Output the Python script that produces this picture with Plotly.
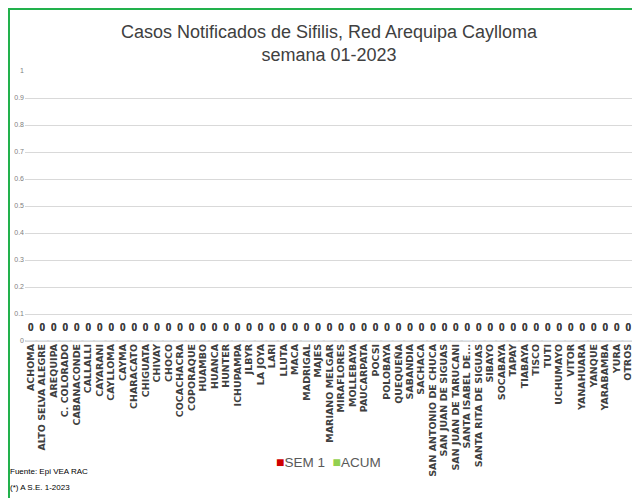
import plotly.graph_objects as go

# distritos (eje x)
distritos = [
    "ACHOMA", "ALTO SELVA ALEGRE", "AREQUIPA", "C. COLORADO", "CABANACONDE",
    "CALLALLI", "CAYARANI", "CAYLLOMA", "CAYMA", "CHARACATO", "CHIGUATA",
    "CHIVAY", "CHOCO", "COCACHACRA", "COPORAQUE", "HUAMBO", "HUANCA",
    "HUNTER", "ICHUPAMPA", "JLBYR", "LA JOYA", "LARI", "LLUTA", "MACA",
    "MADRIGAL", "MAJES", "MARIANO MELGAR", "MIRAFLORES", "MOLLEBAYA",
    "PAUCARPATA", "POCSI", "POLOBAYA", "QUEQUEÑA", "SABANDIA", "SACHACA",
    "SAN ANTONIO DE CHUCA", "SAN JUAN DE SIGUAS", "SAN JUAN DE TARUCANI",
    "SANTA ISABEL DE...", "SANTA RITA DE SIGUAS", "SIBAYO", "SOCABAYA",
    "TAPAY", "TIABAYA", "TISCO", "TUTI", "UCHUMAYO", "VITOR", "YANAHUARA",
    "YANQUE", "YARABAMBA", "YURA", "OTROS",
]
# casos semana 1
sem1 = [0, 0, 0, 0, 0, 0, 0, 0, 0, 0, 0, 0, 0, 0, 0, 0, 0, 0, 0, 0,
        0, 0, 0, 0, 0, 0, 0, 0, 0, 0, 0, 0, 0, 0, 0, 0, 0, 0, 0, 0,
        0, 0, 0, 0, 0, 0, 0, 0, 0, 0, 0, 0, 0]
# casos acumulados
acum = [0, 0, 0, 0, 0, 0, 0, 0, 0, 0, 0, 0, 0, 0, 0, 0, 0, 0, 0, 0,
        0, 0, 0, 0, 0, 0, 0, 0, 0, 0, 0, 0, 0, 0, 0, 0, 0, 0, 0, 0,
        0, 0, 0, 0, 0, 0, 0, 0, 0, 0, 0, 0, 0]
y_ticks = [0, 0.1, 0.2, 0.3, 0.4, 0.5, 0.6, 0.7, 0.8, 0.9, 1]

SANS = "Liberation Sans, Arial"
ROJO, VERDE = "#D00000", "#92D050"

# la pagina tiene 8px de margen en body -> coordenadas de pantalla - 8
OFF = 8
W, H = 640 - OFF, 498 - OFF
L, R, T, B = 25 - OFF, 6, 71 - OFF, 157
pw, ph = W - L - R, H - T - B

def px(x):
    return (x - OFF - L) / pw

def py(y):
    return (H - B - (y - OFF)) / ph

fig = go.Figure([
    go.Bar(x=distritos, y=sem1, name="SEM 1", marker_color=ROJO),
    go.Bar(x=distritos, y=acum, name="ACUM", marker_color=VERDE),
])
# etiquetas de datos
for serie in (sem1, acum):
    fig.add_trace(go.Scatter(
        x=distritos, y=serie, mode="markers+text", text=serie,
        textposition="top center", cliponaxis=False,
        marker=dict(size=10, opacity=0), showlegend=False, hoverinfo="skip",
        textfont=dict(family=SANS, size=10, color="#404040", weight="bold"),
    ))

fig.update_layout(
    width=W, height=H,
    margin=dict(l=L, r=R, t=T, b=B),
    paper_bgcolor="white", plot_bgcolor="white",
    barmode="overlay",
    showlegend=False,
    title=dict(
        text="Casos Notificados de Sifilis, Red Arequipa Caylloma<br>semana 01-2023",
        font=dict(family=SANS, size=18, color="#404040"),
        x=px(329), xanchor="center", xref="paper",
        y=1 - 30 / H, yanchor="top", yref="container",
    ),
    annotations=[
        dict(text=f"<span style='color:{ROJO};font-size:14px'>■</span>SEM 1  "
                  f"<span style='color:{VERDE};font-size:14px'>■</span>ACUM",
             x=px(328), y=py(462), xref="paper", yref="paper",
             xanchor="center", yanchor="middle", showarrow=False,
             font=dict(family=SANS, size=13.5, color="#595959")),
        dict(text="Fuente: Epi VEA RAC", x=px(8), y=py(471), xref="paper", yref="paper",
             xanchor="left", yanchor="middle", showarrow=False,
             font=dict(family=SANS, size=8, color="#000000")),
        dict(text="(*) A S.E. 1-2023", x=px(8), y=py(487), xref="paper", yref="paper",
             xanchor="left", yanchor="middle", showarrow=False,
             font=dict(family=SANS, size=8, color="#000000")),
    ],
    shapes=[
        dict(type="line", xref="paper", yref="paper", x0=px(8), x1=px(640),
             y0=py(9), y1=py(9), line=dict(color="#22B14C", width=2)),
        dict(type="line", xref="paper", yref="paper", x0=px(9), x1=px(9),
             y0=py(9), y1=py(498), line=dict(color="#22B14C", width=2)),
    ],
)

fig.update_yaxes(
    range=[0, 1], tickvals=y_ticks, ticktext=[f"{v:g}" for v in y_ticks],
    showgrid=True, gridcolor="#D9D9D9", gridwidth=1,
    zeroline=True, zerolinecolor="#D9D9D9",
    tickfont=dict(family=SANS, size=7, color="#808080"),
    ticks="", ticklen=0, automargin=False,
)
fig.update_xaxes(
    range=[-0.5, len(distritos) - 0.5], tickmode="linear", tick0=0, dtick=1,
    tickangle=-90,
    tickfont=dict(family="DejaVu Sans, Verdana", size=9.5, color="#404040", weight="bold"),
    showline=False, ticks="", automargin=False,
)

fig.write_html("out.html")
